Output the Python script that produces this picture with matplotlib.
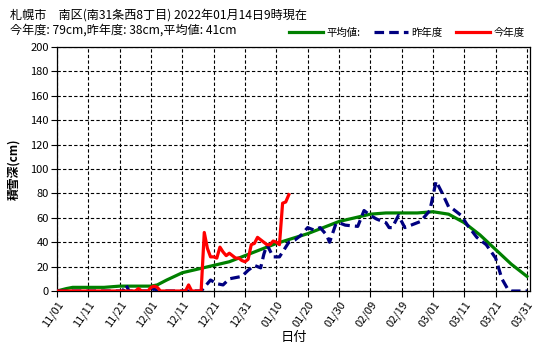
import matplotlib
matplotlib.use("Agg")
import matplotlib.pyplot as plt

plt.rcParams['font.family'] = ['Noto Sans CJK JP', 'DejaVu Sans']

# x axis: days counted from 11/01
tick_days = [0, 10, 20, 30, 40, 50, 60, 70, 80, 90, 100, 110, 120, 130, 140, 150]
tick_labels = ["11/01", "11/11", "11/21", "12/01", "12/11", "12/21", "12/31", "01/10",
               "01/20", "01/30", "02/09", "02/19", "03/01", "03/11", "03/21", "03/31"]

# 平均値
avg_days = [0, 3, 5, 10, 15, 20, 25, 30, 32, 35, 40, 45, 50, 55, 60, 65, 70, 75, 80, 85, 90,
            95, 100, 105, 110, 115, 120, 125, 130, 135, 140, 145, 150]
avg_vals = [0, 2, 3, 3, 3, 4, 4, 4, 5, 9, 15, 18, 21, 24, 29, 34, 39, 43, 47, 52, 57,
            60, 63, 64, 64, 64, 65, 63, 56, 46, 34, 22, 12]

# 昨年度
last_days = [0, 21, 22, 23, 30, 31, 32, 46, 47, 49, 51, 53, 55, 57, 59, 61, 63, 65, 66, 67,
             69, 71, 73, 74, 76, 78, 80, 82, 84, 86, 87, 89, 90, 92, 96, 98, 100, 102, 105,
             106, 107, 109, 111, 113, 116, 119, 121, 123, 125, 126, 129, 131, 134, 137, 140,
             142, 144, 145, 150]
last_vals = [0, 0, 5, 0, 0, 2, 0, 0, 3, 9, 6, 5, 10, 11, 12, 17, 21, 19, 30, 38,
             28, 28, 36, 40, 42, 46, 52, 50, 52, 46, 40, 55, 56, 54, 53, 66, 62, 59, 56,
             52, 52, 62, 52, 54, 57, 66, 90, 80, 69, 68, 62, 54, 44, 38, 27,
             10, 1, 0, 0]

# 今年度
this_days = [0, 25, 26, 27, 29, 30, 31, 32, 33, 41, 42, 43, 46, 47, 48, 49, 50, 51, 52, 53,
             54, 55, 56, 57, 58, 59, 60, 61, 62, 63, 64, 65, 66, 67, 68, 69, 70, 71, 72, 73, 74]
this_vals = [0, 0, 2, 0, 0, 3, 4, 3, 0, 0, 5, 0, 0, 48, 35, 28, 28, 27, 36, 32,
             29, 31, 29, 27, 27, 25, 24, 26, 38, 39, 44, 42, 40, 38, 38, 41, 40, 38, 72, 73, 79]

fig = plt.figure(figsize=(5.52, 3.53), dpi=100)
ax = fig.add_axes([0.1033, 0.1756, 0.857, 0.691])

ax.plot(avg_days, avg_vals, color="#008000", lw=2.3, zorder=3)
ax.plot(last_days, last_vals, color="#000080", lw=2.3, ls=(0, (3, 1.6)), zorder=4)
ax.plot(this_days, this_vals, color="#ff0000", lw=2.3, zorder=5)

ax.set_xlim(0, 151)
ax.set_ylim(0, 200)
ax.set_yticks(range(0, 201, 20))
ax.set_xticks(tick_days)
ax.set_xticklabels(tick_labels, rotation=55, ha="right", va="top", rotation_mode="anchor")
ax.tick_params(labelsize=8, length=4, width=0.8, pad=2)
ax.grid(True, color="black", ls=(0, (3, 2)), lw=0.8)
for s in ax.spines.values():
    s.set_linewidth(0.9)

ax.set_ylabel("積雪深(cm)", fontsize=8.5, fontweight="bold", labelpad=7)
ax.set_xlabel("日付", fontsize=9.5, labelpad=1)

fig.text(0.018, 0.958, "札幌市　南区(南31条西8丁目) 2022年01月14日9時現在", fontsize=8.7, va="center")
fig.text(0.018, 0.915, "今年度: 79cm,昨年度: 38cm,平均値: 41cm", fontsize=8.7, va="center")

h1, = ax.plot([], [], color="#008000", lw=2.3)
h2, = ax.plot([], [], color="#000080", lw=2.3, ls=(0, (3, 1.6)))
h3, = ax.plot([], [], color="#ff0000", lw=2.3)
fig.legend([h1, h2, h3], ["平均値:", "昨年度", "今年度"], loc="center right",
           bbox_to_anchor=(0.958, 0.907), ncol=3, frameon=False, fontsize=7.5,
           handlelength=3.3, handletextpad=0.3, columnspacing=1.3, borderaxespad=0)

fig.savefig("out.png", dpi=100)
